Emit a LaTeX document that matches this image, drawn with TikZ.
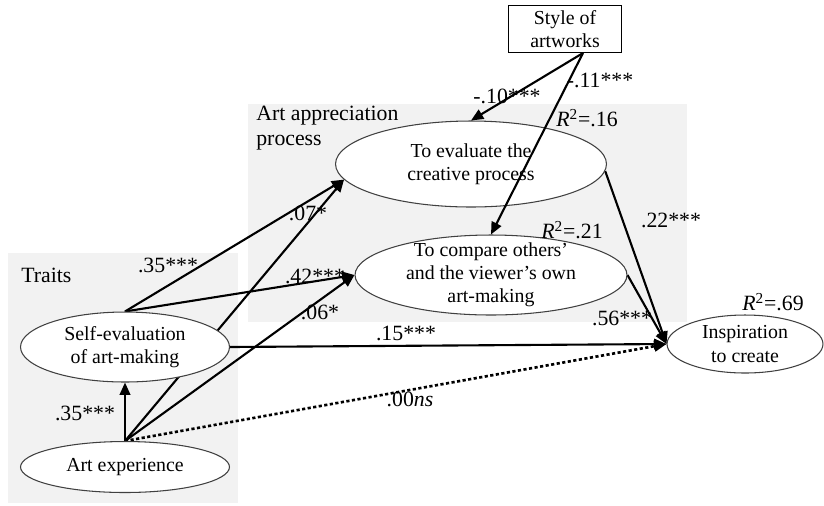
\documentclass[tikz,border=0pt]{standalone}
\usepackage{fontspec}
\setmainfont{Liberation Serif}
\usetikzlibrary{arrows.meta,positioning,calc,shapes.geometric,backgrounds}
\definecolor{ink}{HTML}{000000}
\definecolor{panel}{HTML}{F2F2F2}
\tikzset{construct/.style={ellipse,draw=ink!75,fill=white,line width=.6pt,inner sep=0pt,
    align=center,font=\fontsize{11.3}{13.2}\selectfont},
  obs/.style={rectangle,draw=ink,fill=white,line width=.6pt,inner sep=0pt,
    align=center,font=\fontsize{11.3}{13.2}\selectfont},
  coef/.style={inner sep=0pt,font=\fontsize{12.4}{14}\selectfont},
  wire/.style={line width=1.2pt,draw=ink,-{Triangle[length=7pt,width=6pt]}},
  nswire/.style={wire,line width=1.5pt,dash pattern=on 1.8pt off 1.4pt}}
\newcommand{\rsq}[1]{\textit{R}\textsuperscript{2}=#1}

\begin{document}
\begin{tikzpicture}[x=0.02cm,y=-0.02cm]
\useasboundingbox (0,0) rectangle (824,505);
% variables
\node[obs,minimum width=2.26cm,minimum height=.94cm] (style) at (565,29) {Style of\\artworks};
\node[construct,minimum width=5.42cm,minimum height=1.72cm] (evaluate) at (471,164)
  {To evaluate the\\creative process};
\node[construct,minimum width=5.44cm,minimum height=1.6cm,inner ysep=-3pt] (compare) at (491,275)
  {To compare others'\\and the viewer's own\\art-making};
\node[construct,minimum width=4.18cm,minimum height=1.4cm] (selfeval) at (125,347)
  {Self-evaluation\\of art-making};
\node[construct,minimum width=4.18cm,minimum height=1.02cm] (artexp) at (125,467) {Art experience};
\node[construct,minimum width=3.12cm,minimum height=1.16cm] (inspire) at (745,344)
  {Inspiration\\to create};
\coordinate (styleout) at ($(style.south)+(18,0)$);
\begin{pgfonlayer}{background}
\fill[panel] (8,253) rectangle (238,503);
\fill[panel] (248,104) rectangle (687,322);
\draw[wire] (selfeval.north) -- (evaluate.187);
\draw[wire] (artexp.north) -- (evaluate.187);
\draw[wire] (selfeval.north) -- (compare.west);
\draw[wire] (artexp.north) -- (compare.west);
\draw[wire] (artexp.north) -- (selfeval.south);
\draw[wire] (selfeval.east) -- (inspire.west);
\draw[nswire] (artexp.north) -- (inspire.west);
\draw[wire] (evaluate.-3) -- (inspire.west);
\draw[wire] (compare.east) -- (inspire.west);
\end{pgfonlayer}
\draw[wire] (styleout) -- (evaluate.north);
\draw[wire] (styleout) -- (compare.north);
% labels
\node[coef,anchor=north west,align=left] (apptitle) at (256,106) {Art appreciation\\process};
\node[coef,anchor=west] (traittitle) at (21,275) {Traits};
\node[coef] (c1) at (507,96) {-.10***};
\node[coef] (c2) at (600,80) {-.11***};
\node[coef] (r1) at (587,118) {\rsq{.16}};
\node[coef] (r2) at (572,230) {\rsq{.21}};
\node[coef] (r3) at (773,302) {\rsq{.69}};
\node[coef] (c3) at (671,220) {.22***};
\node[coef] (c4) at (622,318) {.56***};
\node[coef] (c5) at (406,333) {.15***};
\node[coef] (c6) at (410,399) {.00\textit{ns}};
\node[coef] (c7) at (168,265) {.35***};
\node[coef] (c8) at (85,413) {.35***};
\node[coef] (c9) at (308,213) {.07*};
\node[coef] (c10) at (315,276) {.42***};
\node[coef] (c11) at (320,312) {.06*};
\end{tikzpicture}
\end{document}
